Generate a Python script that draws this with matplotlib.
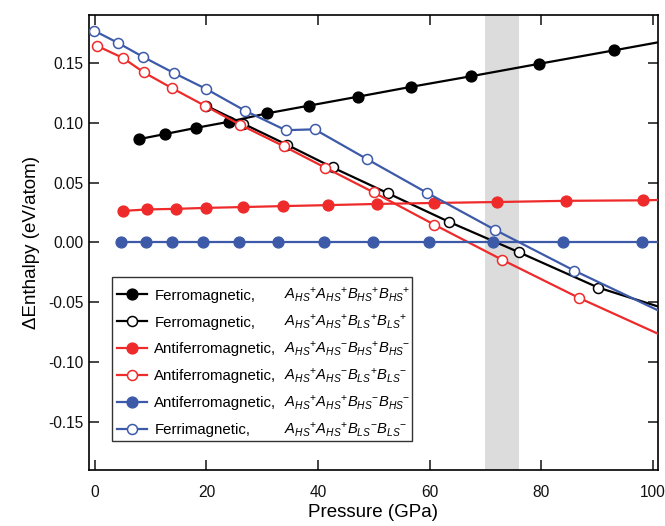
import matplotlib
matplotlib.use('Agg')
import matplotlib.pyplot as plt
from matplotlib.ticker import FormatStrFormatter
from matplotlib.patches import Rectangle

plt.rcParams['font.family'] = ['Liberation Sans', 'DejaVu Sans']
plt.rcParams['mathtext.fontset'] = 'custom'
plt.rcParams['mathtext.rm'] = 'Liberation Sans'
plt.rcParams['mathtext.it'] = 'Liberation Sans:italic'
plt.rcParams['mathtext.bf'] = 'Liberation Sans:bold'
plt.rcParams['mathtext.sf'] = 'Liberation Sans'
plt.rcParams['axes.unicode_minus'] = False

# ---------------- data (pressure in GPa, enthalpy difference in eV/atom) ----
fm_hs_p = [7.9, 12.5, 18.1, 24.0, 30.8, 38.4, 47.2, 56.7, 67.5, 79.6, 93.0]
fm_hs_h = [0.0863, 0.0905, 0.0957, 0.1008, 0.1078, 0.1143, 0.1218, 0.1300, 0.1389, 0.1492, 0.1604]

fm_ls_p = [19.9, 26.6, 34.4, 42.6, 52.5, 63.5, 76.0, 90.2]
fm_ls_h = [0.1143, 0.0992, 0.0817, 0.0627, 0.0412, 0.0172, -0.0081, -0.0376]

afm_hs_p = [5.1, 9.4, 14.5, 20.0, 26.6, 33.8, 41.8, 50.6, 60.8, 72.1, 84.5, 98.3]
afm_hs_h = [0.0264, 0.0276, 0.0281, 0.0289, 0.0296, 0.0304, 0.0312, 0.0322, 0.0330, 0.0338, 0.0348, 0.0352]

afm_ls_p = [0.3, 5.0, 8.8, 13.9, 19.8, 26.1, 33.9, 41.3, 50.0, 60.8, 73.0, 86.8]
afm_ls_h = [0.1644, 0.1542, 0.1420, 0.1287, 0.1140, 0.0982, 0.0803, 0.0625, 0.0418, 0.0150, -0.0144, -0.0463]

afm2_hs_p = [4.7, 9.1, 13.9, 19.4, 25.9, 32.9, 41.0, 49.9, 59.9, 71.3, 83.9, 98.0]
afm2_hs_h = [0.0, 0.0, 0.0, 0.0, 0.0, 0.0, 0.0, 0.0, 0.0, 0.0, 0.0, 0.0]

ferri_ls_p = [-0.1, 4.1, 8.6, 14.1, 20.0, 26.9, 34.2, 39.4, 48.8, 59.5, 71.8, 85.9]
ferri_ls_h = [0.1768, 0.1668, 0.1551, 0.1417, 0.1281, 0.1101, 0.0938, 0.0945, 0.0696, 0.0416, 0.0104, -0.0234]

# linear trend lines continue to the right edge of the plot
edge_p = 101.0
edge_h = {'fm_hs': 0.1672, 'fm_ls': -0.0535, 'afm_hs': 0.0355,
          'afm_ls': -0.0763, 'afm2_hs': 0.0, 'ferri_ls': -0.0568}

names = ['Ferromagnetic,', 'Ferromagnetic,', 'Antiferromagnetic,',
         'Antiferromagnetic,', 'Antiferromagnetic,', 'Ferrimagnetic,']
formulas = [r'$A_{HS}{}^{+}A_{HS}{}^{+}B_{HS}{}^{+}B_{HS}{}^{+}$',
            r'$A_{HS}{}^{+}A_{HS}{}^{+}B_{LS}{}^{+}B_{LS}{}^{+}$',
            r'$A_{HS}{}^{+}A_{HS}{}^{-}B_{HS}{}^{+}B_{HS}{}^{-}$',
            r'$A_{HS}{}^{+}A_{HS}{}^{-}B_{LS}{}^{+}B_{LS}{}^{-}$',
            r'$A_{HS}{}^{+}A_{HS}{}^{+}B_{HS}{}^{-}B_{HS}{}^{-}$',
            r'$A_{HS}{}^{+}A_{HS}{}^{+}B_{LS}{}^{-}B_{LS}{}^{-}$']

band = (70, 76)
xticks = [0, 20, 40, 60, 80, 100]
yticks = [-0.15, -0.10, -0.05, 0.00, 0.05, 0.10, 0.15]

BLACK = '#000000'
RED = '#ee2a2a'
BLUE = '#3d5aa9'

series = [
    (fm_hs_p, fm_hs_h, 'fm_hs', BLACK, True),
    (fm_ls_p, fm_ls_h, 'fm_ls', BLACK, False),
    (afm_hs_p, afm_hs_h, 'afm_hs', RED, True),
    (afm_ls_p, afm_ls_h, 'afm_ls', RED, False),
    (afm2_hs_p, afm2_hs_h, 'afm2_hs', BLUE, True),
    (ferri_ls_p, ferri_ls_h, 'ferri_ls', BLUE, False),
]

fig = plt.figure(figsize=(6.65, 5.26), dpi=100)
ax = fig.add_axes([0.1343, 0.1065, 0.8547, 0.865])

ax.axvspan(band[0], band[1], color='#dcdcdc', lw=0, zorder=0)

handles = []
for i, (p, h, key, col, filled) in enumerate(series):
    xs = list(p) + [edge_p]
    ys = list(h) + [edge_h[key]]
    if filled:
        ln, = ax.plot(xs, ys, color=col, lw=1.6, marker='o', ms=7.8,
                      mfc=col, mec=col, mew=1.0,
                      markevery=list(range(len(p))), zorder=2 + i)
    else:
        ln, = ax.plot(xs, ys, color=col, lw=1.6, marker='o', ms=7.2,
                      mfc='white', mec=col, mew=1.1,
                      markevery=list(range(len(p))), zorder=2 + i)
    handles.append(ln)

ax.set_xlim(-1.0, 100.9)
ax.set_ylim(-0.19, 0.19)
ax.set_xticks(xticks)
ax.set_yticks(yticks)
ax.yaxis.set_major_formatter(FormatStrFormatter('%.2f'))
ax.tick_params(direction='in', top=True, right=True, length=7.5, width=1.1,
               labelsize=11.2, colors='#111111')
ax.tick_params(axis='x', pad=10.5)
ax.tick_params(axis='y', pad=4)
for s in ax.spines.values():
    s.set_linewidth(1.2)

ax.set_xlabel('Pressure (GPa)', fontsize=13.5, labelpad=3)
ax.set_ylabel('\u0394Enthalpy (eV/atom)', fontsize=13.5, labelpad=6)

# legend: names via a real legend, formulas aligned beside them
box = (0.0399, 0.0637, 0.5677 - 0.0399, 0.4242 - 0.0637)
leg = ax.legend(handles, names, loc='upper left',
                bbox_to_anchor=(box[0] - 0.012, box[1] + box[3]),
                bbox_transform=ax.transAxes, frameon=False,
                fontsize=10.8, handlelength=2.0, handletextpad=0.5,
                labelspacing=0.86, borderaxespad=0, borderpad=0.78,
                numpoints=1)
ax.add_patch(Rectangle((box[0], box[1]), box[2], box[3],
                       transform=ax.transAxes, fill=False, lw=1.0,
                       ec='#333333', zorder=20))
fig.canvas.draw()
inv = ax.transAxes.inverted()
for t, f in zip(leg.get_texts(), formulas):
    xy = t.get_transform().transform(t.get_position())
    yax = inv.transform(xy)[1]
    ax.text(0.3425, yax, f, transform=ax.transAxes, fontsize=10.6,
            va='baseline', ha='left', zorder=21)

fig.savefig('out.png', dpi=100)
